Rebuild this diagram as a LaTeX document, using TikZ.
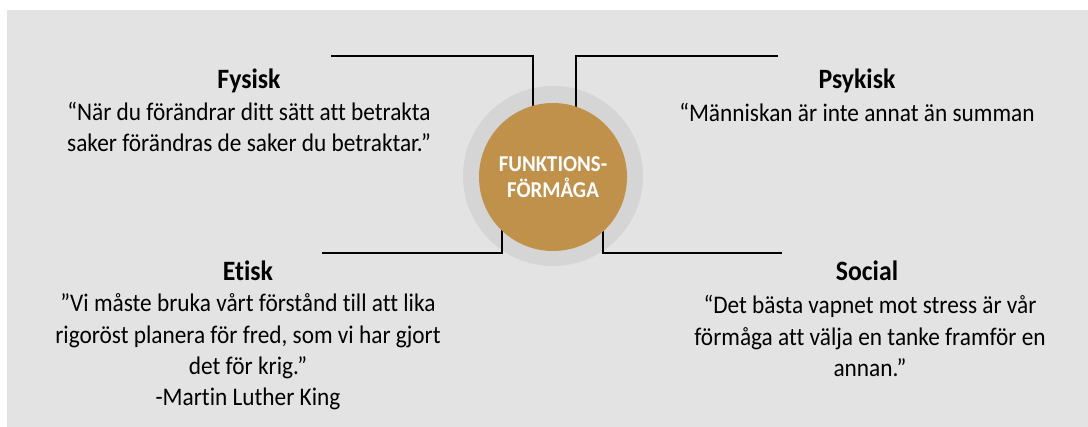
\documentclass[tikz,border=0pt]{standalone}
\usepackage{fontspec}
\setmainfont[FakeStretch=0.92, Ligatures=NoCommon]{Carlito}
\definecolor{panel}{HTML}{E3E3E3}
\definecolor{halo}{HTML}{D5D5D5}
\definecolor{gold}{HTML}{BF914B}
\begin{document}
\begin{tikzpicture}[x=0.75pt,y=-0.75pt]
    \tikzstyle{head}=[font=\bfseries\fontsize{21}{24}\selectfont]
    \tikzstyle{quote}=[align=center, font=\fontsize{19}{23.6}\selectfont]
    \tikzstyle{arm}=[line width=2pt]
    \useasboundingbox (0,0) rectangle (1088,427);
    \fill[panel] (7,10) rectangle (1088,427);

    \node[circle, fill=halo, inner sep=0pt, minimum size=135pt] (ring) at (553,176) {};

    \coordinate (fysA) at (331,56);  \coordinate (fysB) at (533,150);
    \coordinate (psyA) at (778,56);  \coordinate (psyB) at (576,150);
    \coordinate (etiA) at (322,253); \coordinate (etiB) at (502,200);
    \coordinate (socA) at (782,253); \coordinate (socB) at (603,200);
    \draw[arm] (fysA) -| (fysB);
    \draw[arm] (psyA) -| (psyB);
    \draw[arm] (etiA) -| (etiB);
    \draw[arm] (socA) -| (socB);

    \node[circle, fill=gold, inner sep=0pt, minimum size=111pt, align=center,
          text=white, font=\bfseries\fontsize{17}{19.5}\selectfont] (core) at (553,177)
          {FUNKTIONS-\\FÖRMÅGA};

    \node[head] (fys) at (249,81) {Fysisk};
    \node[quote] (fysq) at (249,127) {“När du förändrar ditt sätt att betrakta\\saker förändras de saker du betraktar.”};
    \node[head] (psy) at (857,81) {Psykisk};
    \node[quote] (psyq) at (857,112) {“Människan är inte annat än summan};
    \node[head] (eti) at (248,271) {Etisk};
    \node[quote] (etiq) at (248,352) {”Vi måste bruka vårt förstånd till att lika\\rigoröst planera för fred, som vi har gjort\\det för krig.”\\-Martin Luther King};
    \node[head] (soc) at (867,271) {Social};
    \node[quote] (socq) at (870,336) {“Det bästa vapnet mot stress är vår\\förmåga att välja en tanke framför en\\annan.”};
\end{tikzpicture}
\end{document}
